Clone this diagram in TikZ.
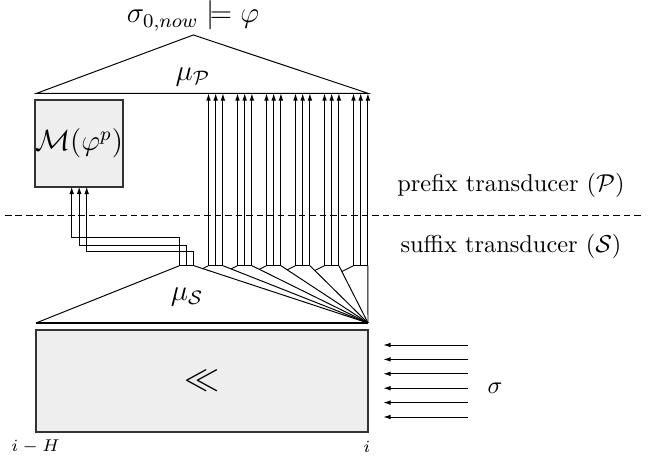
\documentclass[tikz,border=0pt]{standalone}
\usetikzlibrary{arrows.meta,calc}
\definecolor{boxgray}{HTML}{EEEEEE}
\begin{document}
\begin{tikzpicture}[x=0.41pt,y=-0.41pt,line width=0.4pt,
  ar/.style={-{Latex[length=3pt,width=1.9pt]}},
  txt/.style={inner sep=0pt},
  graybox/.style={draw=black!80,fill=boxgray,line width=0.5pt}]
\useasboundingbox (0,0) rectangle (649,462);
% top triangle (prefix transducer)
\coordinate (PL) at (36.7,93.3);
\coordinate (PR) at (368,93.3);
\coordinate (PA) at (193.3,35);
\draw (PL) -- (PA) -- (PR) -- cycle;
\node[txt,font=\large] (sat) at (193,16) {$\sigma_{0,now}\models\varphi$};
\node[txt,font=\large] (muP) at (193,77) {$\mu_{\mathcal P}$};
% monitor box
\node[graybox,minimum width=35.3pt,minimum height=35.7pt,inner sep=0pt,font=\large] (M) at (79,143.5) {$\mathcal M(\varphi^p)$};
% dashed separator
\coordinate (DL) at (5,215.7);
\coordinate (DR) at (641,215.7);
\draw[dash pattern=on 2.7pt off 1.6pt] (DL) -- (DR);
\node[txt] (pre) at (511,185) {prefix transducer ($\mathcal P$)};
\node[txt] (suf) at (511,246) {suffix transducer ($\mathcal S$)};
% suffix triangle
\coordinate (SL) at (36,323);
\coordinate (C) at (368,323);
\node[txt,font=\large] (muS) at (187,297) {$\mu_{\mathcal S}$};
% groups of wires
\foreach \k in {0,...,6}{
  \foreach \j in {0,1,2}{
    \coordinate (b\k\j) at ({179.5+29*\k+7.2*\j},265.7);
  }
  \draw (b\k0) -- (b\k2);
  \draw (b\k2) -- (C);
}
\foreach \k in {1,...,6}{
  \foreach \j in {0,1,2}{
    \coordinate (t\k\j) at ({179.5+29*\k+7.2*\j},93.3);
    \draw[ar] (b\k\j) -- (t\k\j);
  }
}
\foreach \k in {1,...,6}{
  \pgfmathsetmacro{\rr}{193.9+29*(\k-1)}
  \pgfmathsetmacro{\mm}{57.3/(368-\rr)}
  \pgfmathsetmacro{\ss}{14.6/(1+0.5/\mm)}
  \pgfmathsetmacro{\vx}{179.5+29*\k-\ss}
  \pgfmathsetmacro{\vy}{265.7+0.5*\ss}
  \coordinate (v\k) at (\vx,\vy);
  \draw (b\k0) -- (v\k);
}
\draw (SL) -- (b00);
\draw[line width=0.8pt] (SL) -- (C);
% wires into the monitor
\coordinate (m0) at (71.7,186.7);
\coordinate (m1) at (79.2,186.7);
\coordinate (m2) at (86.7,186.7);
\coordinate (h0) at (0,237.3);
\coordinate (h1) at (0,245);
\coordinate (h2) at (0,251);
\draw[ar] (b00) -- (b00|-h0) -| (m0);
\draw[ar] (b01) -- (b01|-h1) -| (m1);
\draw[ar] (b02) -- (b02|-h2) -| (m2);
% window box
\node[graybox,minimum width=136.1pt,minimum height=41.8pt,inner sep=0pt,font=\Large] (W) at (202,381) {$\ll$};
\node[txt,font=\scriptsize] (iH) at (35.5,446.5) {$i-H$};
\node[txt,font=\scriptsize] (i) at (366.7,446.5) {$i$};
% input stream
\foreach \n/\y in {0/345,1/359.4,2/373.8,3/388.2,4/402.6,5/417}{
  \coordinate (s\n) at (468.3,\y);
  \coordinate (e\n) at (383.3,\y);
  \draw[ar] (s\n) -- (e\n);
}
\node[txt] (sig) at (495,388) {$\sigma$};
\end{tikzpicture}
\end{document}
